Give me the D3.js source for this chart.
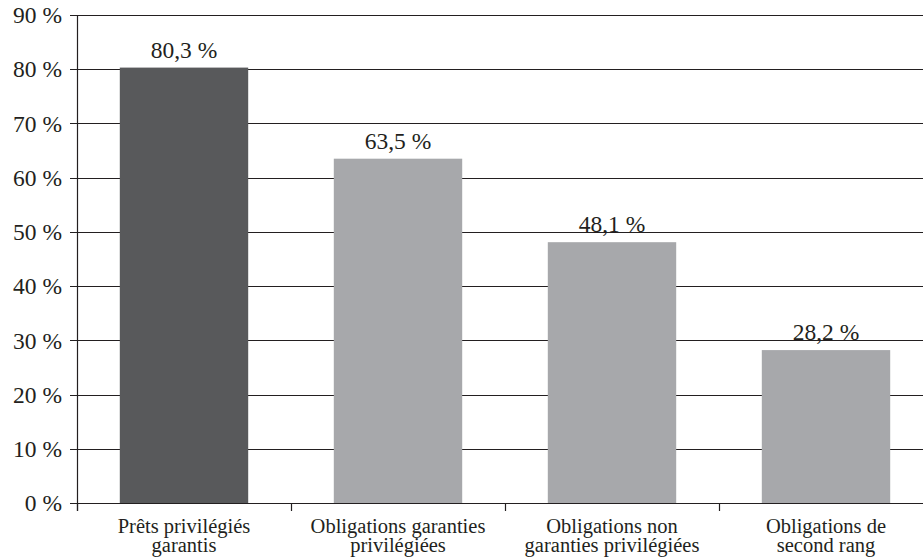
<!DOCTYPE html>
<html>
<head>
<meta charset="utf-8">
<script src="https://cdn.jsdelivr.net/npm/d3@7"></script>
<style>html,body{margin:0;background:#fff}</style>
</head>
<body>
<svg id="figure" width="923" height="560"></svg>
<script>
// Catégories (libellés sur deux lignes) et valeurs en pourcentage
const categories = [
  ["Prêts privilégiés", "garantis"],
  ["Obligations garanties", "privilégiées"],
  ["Obligations non", "garanties privilégiées"],
  ["Obligations de", "second rang"]
];
const values = [80.3, 63.5, 48.1, 28.2];
const valueLabels = ["80,3 %", "63,5 %", "48,1 %", "28,2 %"];
const yTicks = [0, 10, 20, 30, 40, 50, 60, 70, 80, 90];
const barColors = ["#58595b", "#a7a8ab", "#a7a8ab", "#a7a8ab"];

const ink = "#231f20";
const svg = d3.select("#figure");

// Applique la police à un texte
function serifText(sel, size) {
  return sel
    .style("font-family", "'Liberation Serif'")
    .style("font-size", size + "px")
    .attr("fill", ink);
}

const x = d3.scaleBand()
  .domain(d3.range(categories.length))
  .range([77, 933])
  .paddingInner(0.4)
  .paddingOuter(0.2);

const y = d3.scaleLinear()
  .domain([0, 90])
  .range([503, 15]);

// Lignes de quadrillage horizontales
svg.append("g")
  .selectAll("line")
  .data(yTicks)
  .join("line")
  .attr("x1", 70)
  .attr("x2", 923)
  .attr("y1", d => Math.round(y(d)) + 0.5)
  .attr("y2", d => Math.round(y(d)) + 0.5)
  .attr("stroke", ink)
  .attr("stroke-width", 1.2);

// Barres
svg.append("g")
  .selectAll("rect")
  .data(values)
  .join("rect")
  .attr("x", (d, i) => x(i))
  .attr("width", x.bandwidth())
  .attr("y", d => y(d))
  .attr("height", d => y(0) - y(d))
  .attr("fill", (d, i) => barColors[i]);

// Axe vertical : libellés des graduations
svg.append("g")
  .selectAll("text")
  .data(yTicks)
  .join("text")
  .attr("x", 62)
  .attr("y", d => y(d))
  .attr("dy", "0.35em")
  .attr("text-anchor", "end")
  .text(d => d + " %")
  .call(serifText, 23.5);

svg.append("line")
  .attr("x1", 77.5).attr("x2", 77.5)
  .attr("y1", y(90)).attr("y2", 511)
  .attr("stroke", ink).attr("stroke-width", 1.2);

// Axe horizontal : repères entre catégories
const step = x.step();
const sepTicks = d3.range(categories.length + 1).map(i => 77 + i * step);
svg.append("g")
  .selectAll("line")
  .data(sepTicks)
  .join("line")
  .attr("x1", d => Math.round(d) + 0.5)
  .attr("x2", d => Math.round(d) + 0.5)
  .attr("y1", y(0))
  .attr("y2", 511)
  .attr("stroke", ink)
  .attr("stroke-width", 1.2);

// Libellés des catégories (deux lignes)
const catG = svg.append("g");
categories.forEach((lines, i) => {
  lines.forEach((ln, j) => {
    catG.append("text")
      .attr("x", x(i) + x.bandwidth() / 2)
      .attr("y", 533 + j * 19)
      .attr("text-anchor", "middle")
      .text(ln)
      .call(serifText, 20.5);
  });
});

// Étiquettes de valeur au-dessus des barres
svg.append("g")
  .selectAll("text")
  .data(values)
  .join("text")
  .attr("x", (d, i) => x(i) + x.bandwidth() / 2)
  .attr("y", d => y(d) - 10)
  .attr("text-anchor", "middle")
  .text((d, i) => valueLabels[i])
  .call(serifText, 23.5);
</script>
</body>
</html>
